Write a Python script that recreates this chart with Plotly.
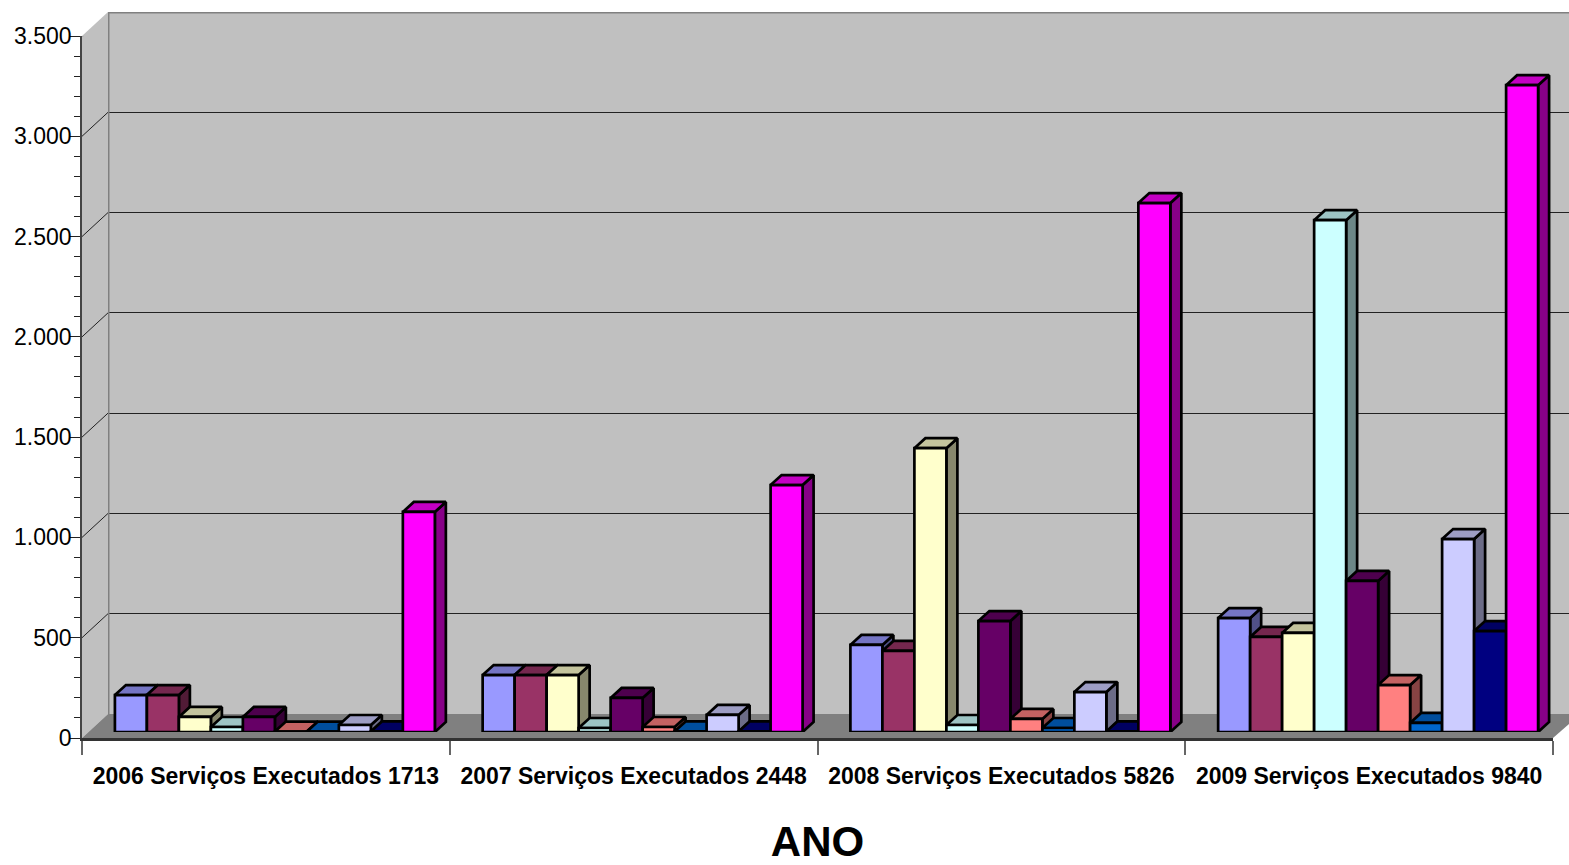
import plotly.graph_objects as go

W, H = 1569, 865
categories = ["2006 Serviços Executados 1713", "2007 Serviços Executados 2448",
              "2008 Serviços Executados 5826", "2009 Serviços Executados 9840"]
y_ticks = [0, 500, 1000, 1500, 2000, 2500, 3000, 3500]
y_labels = ["0", "500", "1.000", "1.500", "2.000", "2.500", "3.000", "3.500"]
colors = ["#9999FF", "#993366", "#FFFFCC", "#CCFFFF", "#660066",
          "#FF8080", "#0066CC", "#CCCCFF", "#000080", "#FF00FF"]
s1 = [184, 284, 434, 568]
s2 = [184, 284, 404, 474]
s3 = [75, 284, 1415, 494]
s4 = [25, 20, 35, 2552]
s5 = [75, 170, 553, 753]
s6 = [2, 25, 65, 234]
s7 = [2, 3, 20, 45]
s8 = [35, 85, 199, 962]
s9 = [3, 3, 3, 503]
s10 = [1097, 1231, 2637, 3225]
series = [s1, s2, s3, s4, s5, s6, s7, s8, s9, s10]

# pixel geometry of the frame
X0, X1, Y0, Y1 = 82, 1553, 738, 36       # front plane
WALL_DX, WALL_DY = 26, 24                # back wall offset
BAR_DX, BAR_DY = 9, 6                    # bar plane offset
DEPTH_DX, DEPTH_DY = 11, 10              # bar depth
YMAX = 3500
x_per_px = 4 / (X1 - X0)
y_per_px = YMAX / (Y0 - Y1)
BAR_W = 0.087
GROUP_W = BAR_W * 10
FONT = "Liberation Sans, Arial"


def fx(px):
    return px / W


def fy(px):
    return 1 - px / H


def scale(hexcolor, k):
    r, g, b = (int(hexcolor[i:i + 2], 16) for i in (1, 3, 5))
    return f"rgb({int(r * k)},{int(g * k)},{int(b * k)})"


fig = go.Figure()
centers = [i + 0.5 for i in range(len(categories))]
wall_xmax = (W - (X0 + WALL_DX)) * x_per_px

# Back wall: left and top border (also makes the subplot with its grid exist)
fig.add_trace(go.Scatter(x=[0, 0, wall_xmax], y=[0, YMAX, YMAX], xaxis="x", yaxis="y", mode="lines",
                         line=dict(color="#808080", width=3), cliponaxis=False,
                         hoverinfo="skip", showlegend=False))

# Front axes: depth diagonals
wdx, wdy = WALL_DX * x_per_px, WALL_DY * y_per_px
dx_vals, dy_vals = [], []
for v in y_ticks[1:-1]:
    dx_vals += [0, wdx, None]
    dy_vals += [v, v + wdy, None]
fig.add_trace(go.Scatter(x=dx_vals, y=dy_vals, xaxis="x2", yaxis="y2", mode="lines",
                         line=dict(color="#222222", width=1), cliponaxis=False,
                         hoverinfo="skip", showlegend=False))
fig.add_trace(go.Scatter(x=[0, wdx, None, 4, 4 + wdx], y=[YMAX, YMAX + wdy, None, 0, wdy],
                         xaxis="x2", yaxis="y2", mode="lines",
                         line=dict(color="#808080", width=2), cliponaxis=False,
                         hoverinfo="skip", showlegend=False))

# Depth faces
ddx, ddy = DEPTH_DX * x_per_px, DEPTH_DY * y_per_px
for i, (vals, col) in enumerate(zip(series, colors)):
    sx, sy, tx, ty = [], [], [], []
    for c, v in zip(centers, vals):
        l = c - GROUP_W / 2 + i * BAR_W
        r = l + BAR_W
        sx += [r, r + ddx, r + ddx, r, r, None]
        sy += [0, ddy, v + ddy, v, 0, None]
        tx += [l, l + ddx, r + ddx, r, l, None]
        ty += [v, v + ddy, v + ddy, v, v, None]
    for px_, py_, k in ((sx, sy, 0.53), (tx, ty, 0.77)):
        fig.add_trace(go.Scatter(x=px_, y=py_, xaxis="x3", yaxis="y3", mode="lines",
                                 fill="toself", fillcolor=scale(col, k),
                                 line=dict(color="black", width=2.7), cliponaxis=False,
                                 hoverinfo="skip", showlegend=False))

# Front faces
for i, (vals, col) in enumerate(zip(series, colors)):
    fig.add_trace(go.Bar(x=centers, y=vals, xaxis="x4", yaxis="y4",
                         offset=-GROUP_W / 2 + i * BAR_W, width=BAR_W,
                         marker=dict(color=col, line=dict(color="black", width=2.7)),
                         cliponaxis=False, hoverinfo="skip", showlegend=False))

hidden = dict(visible=False, fixedrange=True)


def para(pts):
    return "M " + " L ".join(f"{fx(a)},{fy(b)}" for a, b in pts) + " Z"


shapes = [
    dict(type="path", xref="paper", yref="paper", layer="below", line_width=0, fillcolor="#C0C0C0",
         path=para([(X0 + WALL_DX, Y1 - WALL_DY), (W, Y1 - WALL_DY), (W, Y0 - WALL_DY), (X0 + WALL_DX, Y0 - WALL_DY)])),
    dict(type="path", xref="paper", yref="paper", layer="below", line_width=0, fillcolor="#C0C0C0",
         path=para([(X0, Y1), (X0 + WALL_DX, Y1 - WALL_DY), (X0 + WALL_DX, Y0 - WALL_DY), (X0, Y0)])),
    dict(type="path", xref="paper", yref="paper", layer="below", line_width=0, fillcolor="#808080",
         path=para([(X0, Y0), (X0 + WALL_DX, Y0 - WALL_DY), (W, Y0 - WALL_DY), (W, Y0 - WALL_DY + 10), (X1, Y0)])),
]

fig.update_layout(
    width=W, height=H, autosize=False,
    margin=dict(l=0, r=0, t=0, b=0, pad=0, autoexpand=False),
    paper_bgcolor="white", plot_bgcolor="rgba(0,0,0,0)",
    font=dict(family=FONT, color="black"),
    barmode="overlay", showlegend=False, shapes=shapes,
    # back wall
    xaxis=dict(domain=[fx(X0 + WALL_DX), 1], range=[0, wall_xmax], showgrid=False, zeroline=False,
               showticklabels=False, ticks="", anchor="y", showline=False, fixedrange=True),
    yaxis=dict(domain=[fy(Y0 - WALL_DY), fy(Y1 - WALL_DY)], range=[0, YMAX], anchor="x",
               tickvals=y_ticks[1:-1], showticklabels=False, ticks="", showgrid=True,
               gridcolor="#222222", gridwidth=1, zeroline=False, showline=False, fixedrange=True),
    # front axes
    xaxis2=dict(domain=[fx(X0), fx(X1)], range=[0, 4], anchor="y2", tickvals=centers, ticktext=categories,
                ticks="outside", ticklen=0, showline=True, linecolor="#333333", linewidth=3,
                showgrid=False, zeroline=False, fixedrange=True, ticklabelstandoff=15,
                tickfont=dict(size=23, family=FONT, weight="bold"),
                minor=dict(tickvals=[0, 1, 2, 3, 4], ticks="outside", ticklen=14, tickcolor="#666666", tickwidth=2),
                title=dict(text="ANO", standoff=40, font=dict(size=42, weight="bold", family=FONT))),
    yaxis2=dict(domain=[fy(Y0), fy(Y1)], range=[0, YMAX], anchor="x2", tickvals=y_ticks, ticktext=y_labels,
                ticks="outside", ticklen=10, tickcolor="#222222", tickwidth=1, showline=True,
                linecolor="#444444", linewidth=1.5, showgrid=False, zeroline=False, fixedrange=True,
                ticklabelstandoff=-6, tickfont=dict(size=23),
                minor=dict(dtick=100, ticks="outside", ticklen=6, tickcolor="#222222", tickwidth=1, showgrid=False)),
    # bar plane: depth faces
    xaxis3=dict(domain=[fx(X0 + BAR_DX), fx(X1 + BAR_DX)], range=[0, 4], anchor="y3", **hidden),
    yaxis3=dict(domain=[fy(Y0 - BAR_DY), fy(Y1 - BAR_DY)], range=[0, YMAX], anchor="x3", **hidden),
    # bar plane: front faces
    xaxis4=dict(domain=[fx(X0 + BAR_DX), fx(X1 + BAR_DX)], range=[0, 4], anchor="y4", **hidden),
    yaxis4=dict(domain=[fy(Y0 - BAR_DY), fy(Y1 - BAR_DY)], range=[0, YMAX], anchor="x4", **hidden),
)

fig.write_html("out.html", config={"displayModeBar": False},
               post_script="document.body.style.margin='0';document.body.style.overflow='hidden';")
